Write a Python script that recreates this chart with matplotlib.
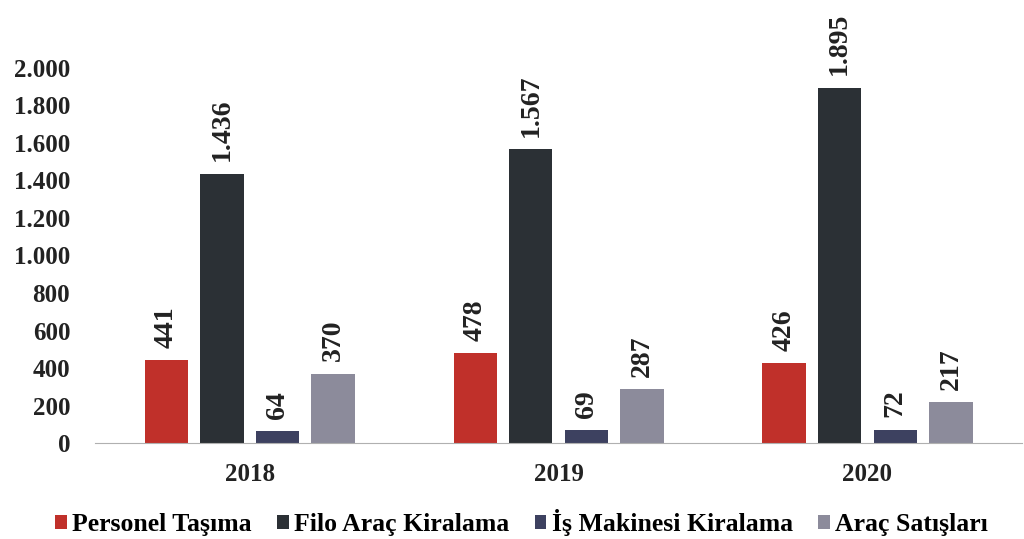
import numpy as np
import matplotlib.pyplot as plt
from matplotlib.ticker import FuncFormatter

years = ['2018', '2019', '2020']
series = ['Personel Taşıma', 'Filo Araç Kiralama', 'İş Makinesi Kiralama', 'Araç Satışları']
personel = [441, 478, 426]
filo = [1436, 1567, 1895]
is_makinesi = [64, 69, 72]
satis = [370, 287, 217]
colors = ['#c0302a', '#2b3035', '#3d4160', '#8c8b9b']

def fmt(v):
    return f'{v:,.0f}'.replace(',', '.')

plt.rcParams['font.family'] = ['Liberation Serif', 'DejaVu Serif']
plt.rcParams['font.weight'] = 'bold'

fig = plt.figure(figsize=(10.24, 5.39), dpi=100)
ax = fig.add_axes([0.093, 0.178, 0.905, 0.696])

x = np.arange(len(years))
width = 0.14
step = 0.18
for i, (vals, name) in enumerate(zip([personel, filo, is_makinesi, satis], series)):
    pos = x + (i - 1.5) * step
    bars = ax.bar(pos, vals, width, color=colors[i], label=name)
    for b, v in zip(bars, vals):
        ax.annotate(fmt(v), (b.get_x() + b.get_width() / 2, b.get_height()),
                    xytext=(0, 9), textcoords='offset points', rotation=90,
                    ha='center', va='bottom', fontsize=20, fontweight='bold',
                    color='#222222', annotation_clip=False)

ax.set_xlim(-0.5, 2.5)
ax.set_ylim(0, 2000)
ax.set_yticks(np.arange(0, 2001, 200))
ax.yaxis.set_major_formatter(FuncFormatter(lambda v, p: fmt(v)))
ax.set_xticks(x)
ax.set_xticklabels(years)
ax.tick_params(axis='both', length=0, labelsize=18, colors='#222222')
ax.tick_params(axis='x', pad=14)
ax.tick_params(axis='y', pad=18)
for s in ['top', 'right', 'left']:
    ax.spines[s].set_visible(False)
ax.spines['bottom'].set_color('#b0b0b0')

ax.legend(loc='lower center', bbox_to_anchor=(0.46, -0.31), ncol=4, frameon=False,
          fontsize=18.5, handlelength=0.45, handleheight=0.45, handletextpad=0.2,
          columnspacing=1.0)

fig.savefig('out.png', dpi=100)
